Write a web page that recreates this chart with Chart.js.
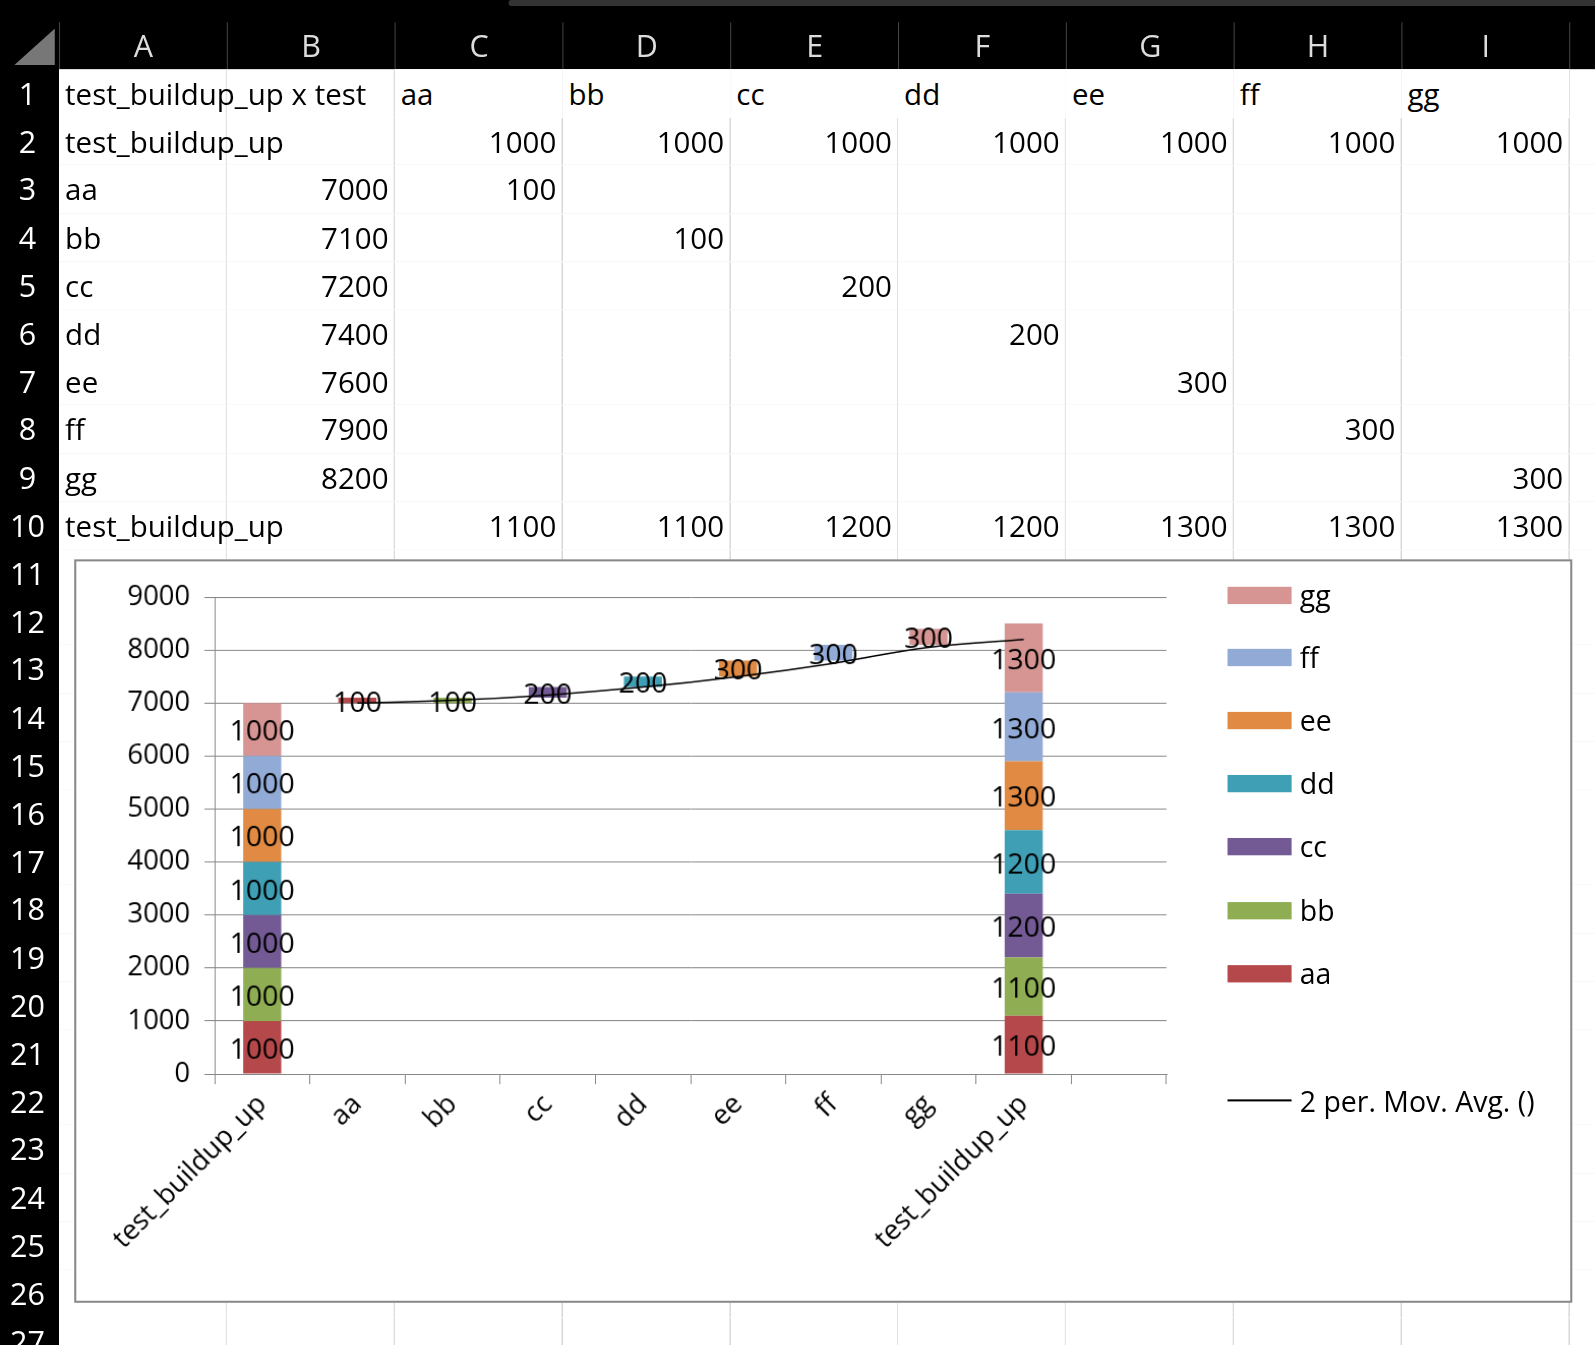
<!DOCTYPE html>
<html>
<head>
<meta charset="utf-8">
<script src="https://cdn.jsdelivr.net/npm/chart.js@4/dist/chart.umd.min.js"></script>
<style>
body { margin:0; background:#000; width:1595px; height:1345px; overflow:hidden; font-family:"Open Sans","Noto Sans",sans-serif; }
#sheet { position:absolute; left:0; top:0; width:1595px; height:1345px; transform:scale(1.017); transform-origin:0 0; }
.cell { position:absolute; background:#fff; border-right:1px solid #e2e2e2; border-bottom:1px solid #e2e2e2; box-sizing:border-box; font-size:29px; line-height:47px; white-space:nowrap; color:#000; }
.num { text-align:right; padding-right:6px; }
.txt { padding-left:6px; overflow:visible; }
.hdr { position:absolute; color:#ddd; font-size:30px; text-align:center; box-sizing:border-box; }
#chartbox { position:absolute; left:73px; top:550px; width:1473px; height:731px; border:2px solid #888; background:#fff; box-sizing:border-box; }
#cv { position:absolute; left:0; top:0; }
.leg { position:absolute; font-size:28px; line-height:30px; }
.sw { position:absolute; width:63px; height:17px; }
</style>
</head>
<body>
<div id="sheet"></div>
<script>
// spreadsheet contents
const colNames = ['A','B','C','D','E','F','G','H','I'];
const headerRow = ['test_buildup_up x test','','aa','bb','cc','dd','ee','ff','gg'];
const rowLabels = ['test_buildup_up','aa','bb','cc','dd','ee','ff','gg','test_buildup_up'];
const runningTotal = [null,7000,7100,7200,7400,7600,7900,8200,null];
const startValues = [1000,1000,1000,1000,1000,1000,1000];
const stepValues = [100,100,200,200,300,300,300];
const endValues = [1100,1100,1200,1200,1300,1300,1300];

// chart data
const categories = ['test_buildup_up','aa','bb','cc','dd','ee','ff','gg','test_buildup_up',''];
const seriesNames = ['aa','bb','cc','dd','ee','ff','gg'];
const seriesColors = ['#b5484a','#8fae54','#735a94','#3f9fb5','#e08a43','#92abd6','#d69593'];
const baseValues = [0,7000,7000,7100,7300,7500,7800,8100,0,0];
const movAvg = [null,7000,7050,7150,7300,7500,7750,8050,8200,null];
const gridLeft = 58, colW = 165, top0 = 68, rowH = 47.2;

const sheet = document.getElementById('sheet');
function add(cls, x, y, w, h, text, extra) {
  const d = document.createElement('div');
  d.className = cls;
  Object.assign(d.style, {left:x+'px', top:y+'px', width:w+'px', height:h+'px'});
  if (extra) Object.assign(d.style, extra);
  d.textContent = text;
  sheet.appendChild(d);
  return d;
}
add('hdr', 500, 0, 1100, 6, '', {background:'#333', borderRadius:'6px'});
add('hdr', 14, 28, 40, 36, '', {background:'#777', clipPath:'polygon(100% 0,100% 100%,0 100%)'});
for (let c = 0; c < 10; c++) {
  add('hdr', gridLeft + c*colW, 22, colW, 46, colNames[c] || '', {lineHeight:'46px', borderLeft:'1px solid #444'});
}
for (let r = 0; r < 27; r++) {
  const y = top0 + r*rowH;
  add('hdr', 0, y, 54, rowH, String(r+1), {lineHeight:rowH+'px', color:'#fff', fontSize:'30px'});
  for (let c = 0; c < 10; c++) {
    add('cell', gridLeft + c*colW, y, colW, rowH+1, '');
  }
}
function cellText(r, c, text, isNum) {
  const d = add('cell ' + (isNum ? 'num' : 'txt'), gridLeft + c*colW, top0 + r*rowH, colW, rowH+1, text, {background:'transparent', border:'none'});
  d.style.zIndex = 2;
  return d;
}
const a1 = cellText(0, 0, headerRow[0], false);
a1.style.width = (2*colW) + 'px'; a1.style.overflow = 'hidden';
for (let c = 2; c < 9; c++) {
  const d = cellText(0, c, headerRow[c], false);
  d.style.background = '#fff'; d.style.zIndex = 3;
}
cellText(1, 0, rowLabels[0], false);
startValues.forEach((v, i) => cellText(1, i+2, v, true));
for (let i = 0; i < 7; i++) {
  cellText(i+2, 0, rowLabels[i+1], false);
  cellText(i+2, 1, runningTotal[i+1], true);
  cellText(i+2, i+2, stepValues[i], true);
}
cellText(9, 0, rowLabels[8], false);
endValues.forEach((v, i) => cellText(9, i+2, v, true));

// chart box
const box = document.createElement('div');
box.id = 'chartbox';
box.style.zIndex = 5;
box.innerHTML = '<canvas id="cv" width="1110" height="727"></canvas>';
sheet.appendChild(box);
const cv = document.getElementById('cv');
cv.style.width = '1110px'; cv.style.height = '727px';

// legend
const legY = [585,646,708,770,832,895,957];
for (let i = 0; i < 7; i++) {
  const k = 6 - i;
  const s = document.createElement('div'); s.className = 'sw';
  Object.assign(s.style, {left:(1207-75)+'px', top:(legY[i]-552-8)+'px', background:seriesColors[k]});
  box.appendChild(s);
  const t = document.createElement('div'); t.className = 'leg';
  Object.assign(t.style, {left:(1278-75)+'px', top:(legY[i]-552-15)+'px'});
  t.textContent = seriesNames[k];
  box.appendChild(t);
}
const ln = document.createElement('div'); ln.className = 'sw';
Object.assign(ln.style, {left:(1207-75)+'px', top:(1081-552)+'px', height:'2px', background:'#000'});
box.appendChild(ln);
const lt = document.createElement('div'); lt.className = 'leg';
Object.assign(lt.style, {left:(1278-75)+'px', top:(1082-552-15)+'px'});
lt.textContent = '2 per. Mov. Avg. ()';
box.appendChild(lt);

// datasets (all bars share one order so stacking follows dataset index)
const datasets = [{
  type:'line', label:'mov', data:movAvg, borderColor:'#000', borderWidth:1.5,
  pointRadius:0, tension:0.4, stack:'l', order:0
}, {
  label:'base', data:baseValues, backgroundColor:'rgba(0,0,0,0)', stack:'s', order:1
}];
seriesNames.forEach((name, i) => {
  const d = categories.map(() => 0);
  d[0] = startValues[i];
  d[i+1] = stepValues[i];
  d[8] = endValues[i];
  datasets.push({label:name, data:d, backgroundColor:seriesColors[i], stack:'s', order:1});
});

const barLabels = {
  id:'barLabels',
  afterDatasetsDraw(chart) {
    const ctx = chart.ctx;
    ctx.save();
    ctx.font = '28px "Open Sans", "Noto Sans", sans-serif';
    ctx.fillStyle = '#000';
    ctx.textAlign = 'center';
    ctx.textBaseline = 'middle';
    chart.data.datasets.forEach((ds, di) => {
      if (ds.type === 'line' || ds.label === 'base') return;
      chart.getDatasetMeta(di).data.forEach((el, j) => {
        const v = ds.data[j];
        if (!v) return;
        ctx.fillText(String(v), el.x, (el.y + el.base) / 2 + 3);
      });
    });
    ctx.restore();
  }
};

const font = {family:'"Open Sans", "Noto Sans", sans-serif', size:27};
new Chart(cv.getContext('2d'), {
  type:'bar',
  data:{labels:categories, datasets:datasets},
  options:{
    responsive:false, animation:false,
    layout:{padding:{top:35, right:38, left:0, bottom:0}},
    datasets:{bar:{barPercentage:0.4, categoryPercentage:1}},
    plugins:{legend:{display:false}, tooltip:{enabled:false}},
    scales:{
      x:{
        stacked:true,
        grid:{drawOnChartArea:false, color:'#888', tickLength:10, offset:true},
        border:{color:'#888'},
        ticks:{color:'#000', font:font, minRotation:45, maxRotation:45, padding:4},
        afterFit(s){ s.height = 223; }
      },
      y:{
        stacked:true, min:0, max:9000,
        grid:{color:'#888', tickLength:10},
        border:{color:'#888'},
        ticks:{stepSize:1000, color:'#000', font:font, padding:14, callback:v => String(v)},
        afterFit(s){ s.width = 136; }
      }
    }
  },
  plugins:[barLabels]
});
</script>
</body>
</html>
